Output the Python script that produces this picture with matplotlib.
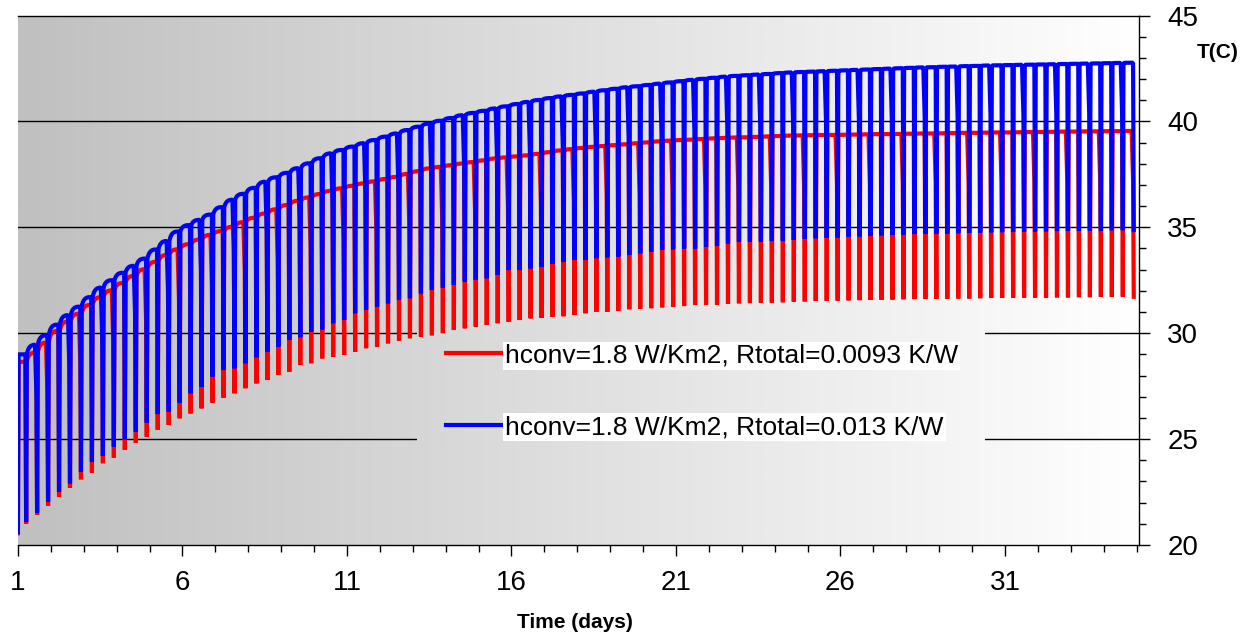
import numpy as np
import matplotlib
matplotlib.use("Agg")
import matplotlib.pyplot as plt
from matplotlib.colors import LinearSegmentedColormap
from matplotlib.patches import Rectangle
from matplotlib.ticker import MultipleLocator

plt.rcParams["font.family"] = ["Liberation Sans", "DejaVu Sans"]

# time base: series starts at day 1, one temperature minimum every 8 h,
# the first one 6 h in; samples every half hour
DAY0 = 1.0
FIRST_DIP_H = 6
CYCLE_H = 8
STEP_H = 0.5

LABEL_RED = "hconv=1.8 W/Km2, Rtotal=0.0093 K/W"
LABEL_BLUE = "hconv=1.8 W/Km2, Rtotal=0.013 K/W"

START_RED = 20.55
START_BLUE = 20.60

# plateau level before each minimum and the minimum itself (deg C)
TOP_RED = [
    28.65, 29.08, 29.55, 30.10, 30.55, 30.92, 31.33, 31.70, 32.02, 32.37,
    32.70, 33.02, 33.37, 33.69, 33.96, 34.20, 34.42, 34.64, 34.82, 35.02,
    35.24, 35.45, 35.65, 35.85, 36.05, 36.25, 36.41, 36.57, 36.72, 36.84,
    36.96, 37.07, 37.17, 37.28, 37.38, 37.52, 37.65, 37.78, 37.85, 37.93,
    38.01, 38.08, 38.16, 38.25, 38.30, 38.35, 38.40, 38.47, 38.55, 38.63,
    38.69, 38.75, 38.80, 38.84, 38.88, 38.92, 38.97, 39.01, 39.06, 39.09,
    39.12, 39.14, 39.17, 39.20, 39.22, 39.24, 39.25, 39.27, 39.29, 39.31,
    39.33, 39.34, 39.35, 39.36, 39.36, 39.37, 39.38, 39.39, 39.40, 39.40,
    39.41, 39.42, 39.43, 39.43, 39.44, 39.45, 39.46, 39.46, 39.47, 39.48,
    39.48, 39.49, 39.50, 39.50, 39.51, 39.52, 39.52, 39.53, 39.53, 39.54,
    39.54, 39.55,
]
LOW_RED = [
    21.00, 21.42, 21.84, 22.28, 22.71, 23.10, 23.41, 23.86, 24.12, 24.49,
    24.83, 25.11, 25.43, 25.67, 25.98, 26.21, 26.45, 26.72, 26.95, 27.16,
    27.40, 27.63, 27.79, 28.03, 28.18, 28.50, 28.58, 28.81, 28.89, 28.97,
    29.13, 29.29, 29.36, 29.52, 29.65, 29.76, 29.84, 29.90, 30.00, 30.15,
    30.23, 30.31, 30.39, 30.47, 30.54, 30.62, 30.70, 30.72, 30.78, 30.80,
    30.86, 30.94, 31.01, 31.01, 31.06, 31.13, 31.15, 31.18, 31.22, 31.25,
    31.28, 31.33, 31.34, 31.35, 31.38, 31.41, 31.42, 31.44, 31.44, 31.46,
    31.49, 31.50, 31.52, 31.53, 31.54, 31.55, 31.56, 31.57, 31.58, 31.59,
    31.60, 31.61, 31.62, 31.62, 31.63, 31.64, 31.64, 31.65, 31.66, 31.66,
    31.67, 31.67, 31.68, 31.68, 31.69, 31.69, 31.70, 31.70, 31.71, 31.71,
    31.72, 31.72,
]
TOP_BLUE = [
    29.00, 29.45, 29.90, 30.40, 30.85, 31.25, 31.70, 32.15, 32.50, 32.85,
    33.18, 33.52, 33.95, 34.35, 34.80, 35.10, 35.35, 35.60, 35.95, 36.30,
    36.58, 36.86, 37.15, 37.36, 37.57, 37.79, 38.02, 38.26, 38.49, 38.65,
    38.81, 38.97, 39.12, 39.28, 39.43, 39.59, 39.75, 39.90, 40.03, 40.16,
    40.29, 40.40, 40.50, 40.61, 40.71, 40.82, 40.92, 41.01, 41.10, 41.18,
    41.25, 41.32, 41.40, 41.47, 41.54, 41.61, 41.66, 41.72, 41.78, 41.84,
    41.90, 41.96, 42.01, 42.06, 42.11, 42.15, 42.18, 42.21, 42.24, 42.28,
    42.31, 42.33, 42.35, 42.37, 42.39, 42.41, 42.43, 42.45, 42.47, 42.49,
    42.51, 42.53, 42.55, 42.56, 42.58, 42.59, 42.61, 42.62, 42.64, 42.65,
    42.66, 42.67, 42.68, 42.69, 42.70, 42.71, 42.72, 42.73, 42.74, 42.75,
    42.76, 42.77,
]
LOW_BLUE = [
    21.10, 21.53, 22.05, 22.52, 22.91, 23.46, 23.93, 24.20, 24.64, 24.99,
    25.35, 25.78, 26.18, 26.30, 26.72, 27.16, 27.47, 27.95, 28.26, 28.34,
    28.58, 28.86, 29.13, 29.36, 29.68, 29.81, 30.07, 30.18, 30.47, 30.62,
    30.94, 31.10, 31.25, 31.41, 31.57, 31.65, 31.88, 32.04, 32.15, 32.28,
    32.43, 32.51, 32.59, 32.75, 32.98, 32.98, 33.06, 33.14, 33.27, 33.38,
    33.46, 33.46, 33.54, 33.58, 33.62, 33.69, 33.77, 33.85, 33.93, 33.96,
    34.00, 34.00, 34.08, 34.12, 34.24, 34.32, 34.32, 34.32, 34.35, 34.35,
    34.40, 34.45, 34.48, 34.50, 34.52, 34.55, 34.57, 34.60, 34.62, 34.64,
    34.66, 34.68, 34.69, 34.70, 34.71, 34.72, 34.73, 34.74, 34.76, 34.77,
    34.78, 34.79, 34.80, 34.81, 34.82, 34.83, 34.84, 34.85, 34.85, 34.86,
    34.86, 34.87,
]

# after each minimum the trace climbs from the previous plateau to the new one
# (fraction of that step reached, per half-hour sample)
RISE = [0.0, 0.3, 0.5, 0.65, 0.75, 0.83, 0.89, 0.93, 0.96, 0.98, 1.0, 1.0, 1.0, 1.0, 1.0]
# once a day the fall starts an hour early: fraction of the swing left
SAG = [0.85, 0.7]


def build_trace(start, tops, lows, sag_phase):
    vals = [start]
    prev_top = tops[0]
    for k, (top, low) in enumerate(zip(tops, lows)):
        n_top = int((FIRST_DIP_H if k == 0 else CYCLE_H) / STEP_H) - 1
        shape = RISE[-n_top:] if k == 0 else RISE
        seg = [prev_top + f * (top - prev_top) for f in shape]
        if k % 3 == sag_phase:
            for j, f in enumerate(SAG):
                seg[n_top - len(SAG) + j] = low + f * (top - low)
        vals += seg + [low]
        prev_top = top
    t = DAY0 + np.arange(len(vals)) * STEP_H / 24
    return t, np.array(vals)


def main():
    fig = plt.figure(figsize=(12.53, 6.38), dpi=100)
    ax = fig.add_axes([0.01429, 0.1458, 0.8951, 0.8299])

    xmin, xmax, ymin, ymax = 1.0, 35.09, 20, 45
    ax.set_xlim(xmin, xmax)
    ax.set_ylim(ymin, ymax)

    bg = LinearSegmentedColormap.from_list("bg", ["#c0c0c0", "#ffffff"])
    grad = np.linspace(0, 1, 512).reshape(1, -1)
    ax.imshow(grad, cmap=bg, extent=(xmin, xmax, ymin, ymax), aspect="auto",
              zorder=0, interpolation="bilinear")
    # legend area keeps the plain background (hides gridlines there)
    patch = ax.imshow(grad, cmap=bg, extent=(xmin, xmax, ymin, ymax), aspect="auto",
                      zorder=1, interpolation="bilinear")
    clip = Rectangle((0.356, 0.183), 0.506, 0.225, transform=ax.transAxes)
    patch.set_clip_path(clip)

    for y in [25, 30, 35, 40]:
        ax.axhline(y, color="black", lw=1.0, zorder=0.5)

    t_r, v_r = build_trace(START_RED, TOP_RED, LOW_RED, 2)
    t_b, v_b = build_trace(START_BLUE, TOP_BLUE, LOW_BLUE, 1)
    ax.plot(t_r, v_r, color="#ff0000", lw=3.0, solid_joinstyle="bevel",
            zorder=2, label=LABEL_RED)
    ax.plot(t_b, v_b, color="#0000ff", lw=3.0, solid_joinstyle="bevel",
            zorder=3, label=LABEL_BLUE)

    leg = ax.legend(loc="center", bbox_to_anchor=(0.61, 0.29), frameon=False,
                    fontsize=19, handlelength=2.1, handletextpad=0.15,
                    labelspacing=1.8, borderpad=0)
    for line in leg.get_lines():
        line.set_linewidth(3.0)
    for txt in leg.get_texts():
        txt.set_bbox(dict(facecolor="white", edgecolor="none", pad=1.5))

    ax.spines["left"].set_visible(False)
    for side in ["top", "right", "bottom"]:
        ax.spines[side].set_color("black")
        ax.spines[side].set_linewidth(1.0)
        ax.spines[side].set_zorder(4)

    ax.yaxis.tick_right()
    ax.yaxis.set_major_locator(MultipleLocator(5))
    ax.yaxis.set_minor_locator(MultipleLocator(1))
    ax.xaxis.set_major_locator(MultipleLocator(5, offset=1))
    ax.xaxis.set_minor_locator(MultipleLocator(1))
    ax.tick_params(axis="both", which="major", direction="out", length=8,
                   width=1, labelsize=20, color="black")
    ax.tick_params(axis="both", which="minor", direction="out", length=5,
                   width=1, color="black")
    ax.tick_params(axis="y", which="major", pad=12)
    ax.tick_params(axis="x", which="major", pad=10)

    fig.text(1218 / 1253, 1 - 52 / 638, "T(C)", ha="center", va="center",
             fontsize=15, fontweight="bold")
    fig.text(575 / 1253, 1 - 622 / 638, "Time (days)", ha="center", va="center",
             fontsize=15, fontweight="bold")

    fig.savefig("out.png", dpi=100)
    plt.close(fig)


if __name__ == "__main__":
    main()
